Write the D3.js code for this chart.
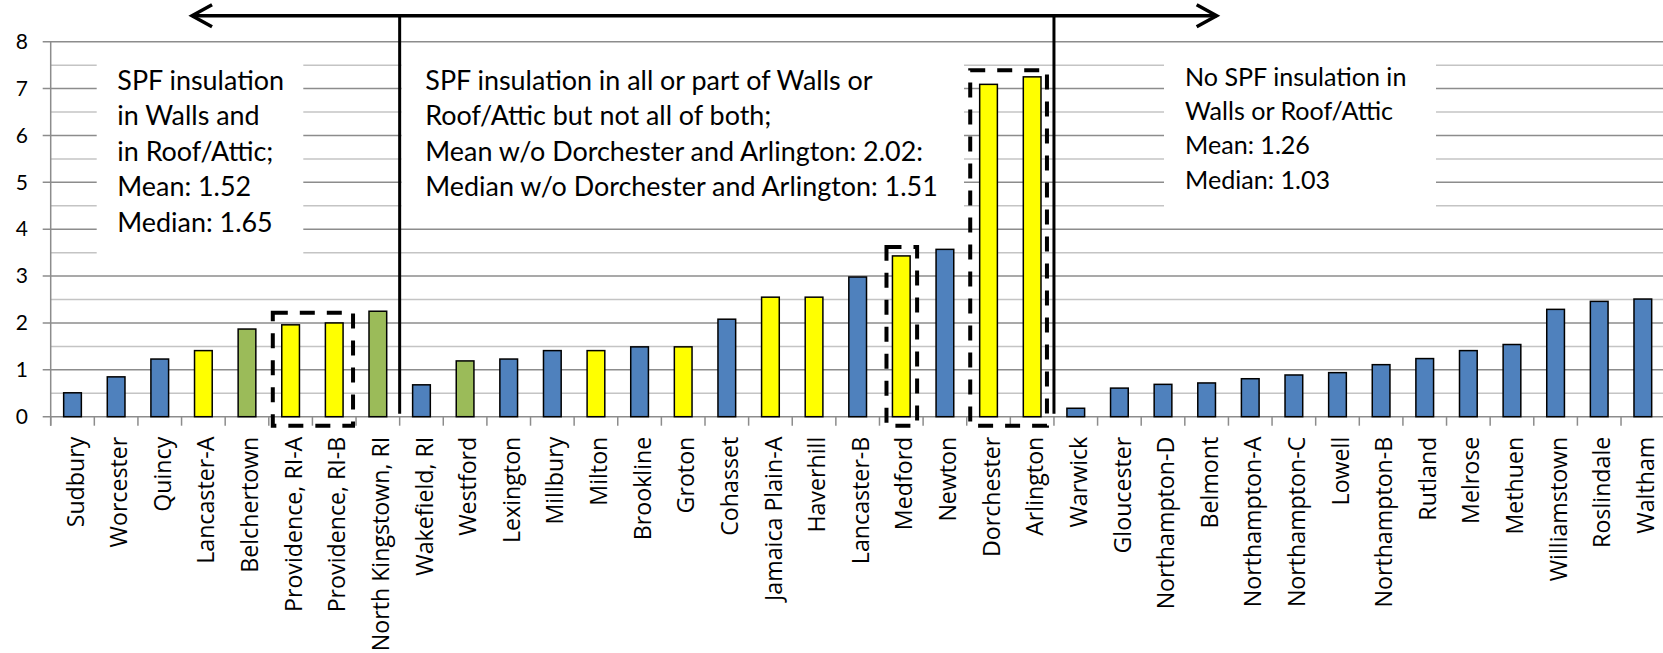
<!DOCTYPE html>
<html>
<head>
<meta charset="utf-8">
<script src="https://cdn.jsdelivr.net/npm/d3@7"></script>
<style>
  html, body { margin: 0; padding: 0; background: #fff; }
  svg { display: block; }
</style>
</head>
<body>
<div id="chart"></div>
<script>
// data
var cities = ['Sudbury', 'Worcester', 'Quincy', 'Lancaster-A', 'Belchertown',
  'Providence, RI-A', 'Providence, RI-B', 'North Kingstown, RI', 'Wakefield, RI',
  'Westford', 'Lexington', 'Millbury', 'Milton', 'Brookline', 'Groton', 'Cohasset',
  'Jamaica Plain-A', 'Haverhill', 'Lancaster-B', 'Medford', 'Newton', 'Dorchester',
  'Arlington', 'Warwick', 'Gloucester', 'Northampton-D', 'Belmont', 'Northampton-A',
  'Northampton-C', 'Lowell', 'Northampton-B', 'Rutland', 'Melrose', 'Methuen',
  'Williamstown', 'Roslindale', 'Waltham'];

var values = [0.51, 0.85, 1.23, 1.41, 1.87, 1.96, 2.00, 2.25, 0.68,
  1.19, 1.23, 1.41, 1.41, 1.49, 1.49, 2.08, 2.55, 2.55, 2.98, 3.43, 3.57, 7.09,
  7.25, 0.18, 0.61, 0.69, 0.72, 0.81, 0.89, 0.94, 1.11, 1.24, 1.41, 1.54,
  2.29, 2.46, 2.51];

var kinds = ['b', 'b', 'b', 'y', 'g', 'y', 'y', 'g', 'b',
  'g', 'b', 'b', 'y', 'b', 'y', 'b', 'y', 'y', 'b', 'y', 'b', 'y',
  'y', 'b', 'b', 'b', 'b', 'b', 'b', 'b', 'b', 'b', 'b', 'b',
  'b', 'b', 'b'];

var yTicks = [0, 1, 2, 3, 4, 5, 6, 7, 8];
var yMinor = [0.5, 1.5, 2.5, 3.5, 4.5, 5.5, 6.5, 7.5];

var boxA = ['SPF insulation', 'in Walls and', 'in Roof/Attic;', 'Mean: 1.52', 'Median: 1.65'];
var boxB = ['SPF insulation in all or part of Walls or', 'Roof/Attic but not all of both;',
  'Mean w/o Dorchester and Arlington: 2.02:', 'Median w/o Dorchester and Arlington: 1.51'];
var boxC = ['No SPF insulation in', 'Walls or Roof/Attic', 'Mean: 1.26', 'Median: 1.03'];

// dashed highlight boxes (first city, last city, top value)
var highlights = [
  {from: 'Providence, RI-A', to: 'Providence, RI-B', top: 2.22, inL: 4, inR: 3},
  {from: 'Medford', to: 'Medford', top: 3.62, inL: 7, inR: 6},
  {from: 'Dorchester', to: 'Arlington', top: 7.39, inL: 3.5, inR: 7}
];

var colors = {b: '#4F81BD', y: '#FFFF00', g: '#9BBB59'};

var W = 1663, H = 653;
var left = 50.7, step = 43.62;

var svg = d3.select('#chart').append('svg')
  .attr('width', W).attr('height', H);

svg.append('rect').attr('width', W).attr('height', H).attr('fill', '#fff');

var x = d3.scaleBand()
  .domain(cities)
  .range([left, left + step * cities.length])
  .paddingInner(0.56)
  .paddingOuter(0.28);
var st = x.step();
var edge = function (name) { return x(name) - 0.28 * st; };

var y = d3.scaleLinear().domain([0, 8]).range([416.7, 41.7]);

// gridlines
svg.append('g').selectAll('line').data(yMinor).enter().append('line')
  .attr('x1', left).attr('x2', W)
  .attr('y1', d => y(d)).attr('y2', d => y(d))
  .attr('stroke', '#C4C4C4').attr('stroke-width', 1.5);

svg.append('g').selectAll('line').data(yTicks.slice(1)).enter().append('line')
  .attr('x1', left - 8).attr('x2', W)
  .attr('y1', d => y(d)).attr('y2', d => y(d))
  .attr('stroke', '#8C8C8C').attr('stroke-width', 1.5);

// white text boxes
var textBoxes = [
  {x0: 96.7, x1: 303.3, y0: 50, y1: 265, tx: 117.3, ty: 90, dy: 35.4, size: 26.9, lines: boxA},
  {x0: 401.5, x1: 964, y0: 50, y1: 218, tx: 425.3, ty: 90, dy: 35.4, size: 26.9, lines: boxB},
  {x0: 1164, x1: 1436, y0: 50, y1: 218, tx: 1185, ty: 86, dy: 34.2, size: 25.1, lines: boxC}
];
textBoxes.forEach(function (b) {
  svg.append('rect')
    .attr('x', b.x0).attr('y', b.y0)
    .attr('width', b.x1 - b.x0).attr('height', b.y1 - b.y0)
    .attr('fill', '#fff');
  svg.append('g').selectAll('text').data(b.lines).enter().append('text')
    .attr('x', b.tx)
    .attr('y', (d, i) => b.ty + i * b.dy)
    .attr('font-family', 'Lato, sans-serif')
    .attr('font-size', b.size)
    .attr('fill', '#000')
    .text(d => d);
});

// y axis
var yAxis = d3.axisLeft(y).tickValues(yTicks).tickSize(0).tickPadding(0);
var gy = svg.append('g').attr('transform', 'translate(28,0)').call(yAxis);
gy.select('.domain').remove();
gy.selectAll('text')
  .attr('font-family', 'Lato, sans-serif')
  .attr('font-size', 21)
  .attr('fill', '#000');

svg.append('line')
  .attr('x1', left).attr('x2', left)
  .attr('y1', y(8)).attr('y2', y(0) + 9)
  .attr('stroke', '#8C8C8C').attr('stroke-width', 1.5);

svg.append('line')
  .attr('x1', left - 8).attr('x2', W)
  .attr('y1', y(0)).attr('y2', y(0))
  .attr('stroke', '#8C8C8C').attr('stroke-width', 1.5);

// x tick marks at category boundaries
svg.append('g').selectAll('line').data(cities).enter().append('line')
  .attr('x1', d => edge(d)).attr('x2', d => edge(d))
  .attr('y1', y(0)).attr('y2', y(0) + 9)
  .attr('stroke', '#8C8C8C').attr('stroke-width', 1.5);

// bars
svg.append('g').selectAll('rect').data(cities).enter().append('rect')
  .attr('x', d => x(d) + 0.75)
  .attr('y', (d, i) => y(values[i]))
  .attr('width', x.bandwidth() - 1.5)
  .attr('height', (d, i) => y(0) - y(values[i]))
  .attr('fill', (d, i) => colors[kinds[i]])
  .attr('stroke', '#000')
  .attr('stroke-width', 1.5);

// category labels
svg.append('g').selectAll('text').data(cities).enter().append('text')
  .attr('transform', d => 'translate(' + (x(d) + x.bandwidth() / 2 + 3) + ',436.7) rotate(-90)')
  .attr('text-anchor', 'end')
  .attr('dy', '0.35em')
  .attr('font-family', '"Open Sans", sans-serif')
  .attr('font-size', 23.2)
  .attr('fill', '#000')
  .text(d => d);

// dashed highlight boxes
svg.append('g').selectAll('rect').data(highlights).enter().append('rect')
  .attr('x', d => edge(d.from) + d.inL)
  .attr('y', d => y(d.top))
  .attr('width', d => edge(d.to) + st - d.inR - edge(d.from) - d.inL)
  .attr('height', d => y(0) + 9 - y(d.top))
  .attr('fill', 'none')
  .attr('stroke', '#000')
  .attr('stroke-width', 4)
  .attr('stroke-dasharray', '15,12');

// group brackets with arrows
var topY = 15.7;
var xL = edge(cities[3]) + 0.24 * st;
var xR = edge(cities[26]) + 0.73 * st;
var g = svg.append('g').attr('stroke', '#000').attr('fill', 'none')
  .attr('stroke-width', 3.5);
g.append('line').attr('x1', xL).attr('x2', xR).attr('y1', topY).attr('y2', topY);
g.append('path').attr('d', 'M' + (xL + 20) + ',' + (topY - 11) + 'L' + xL + ',' + topY + 'L' + (xL + 20) + ',' + (topY + 11));
g.append('path').attr('d', 'M' + (xR - 20) + ',' + (topY - 11) + 'L' + xR + ',' + topY + 'L' + (xR - 20) + ',' + (topY + 11));
[cities[8], cities[23]].forEach(function (c) {
  g.append('line')
    .attr('x1', edge(c)).attr('x2', edge(c))
    .attr('y1', topY).attr('y2', y(0) - 3)
    .attr('stroke-width', 3);
});
</script>
</body>
</html>
